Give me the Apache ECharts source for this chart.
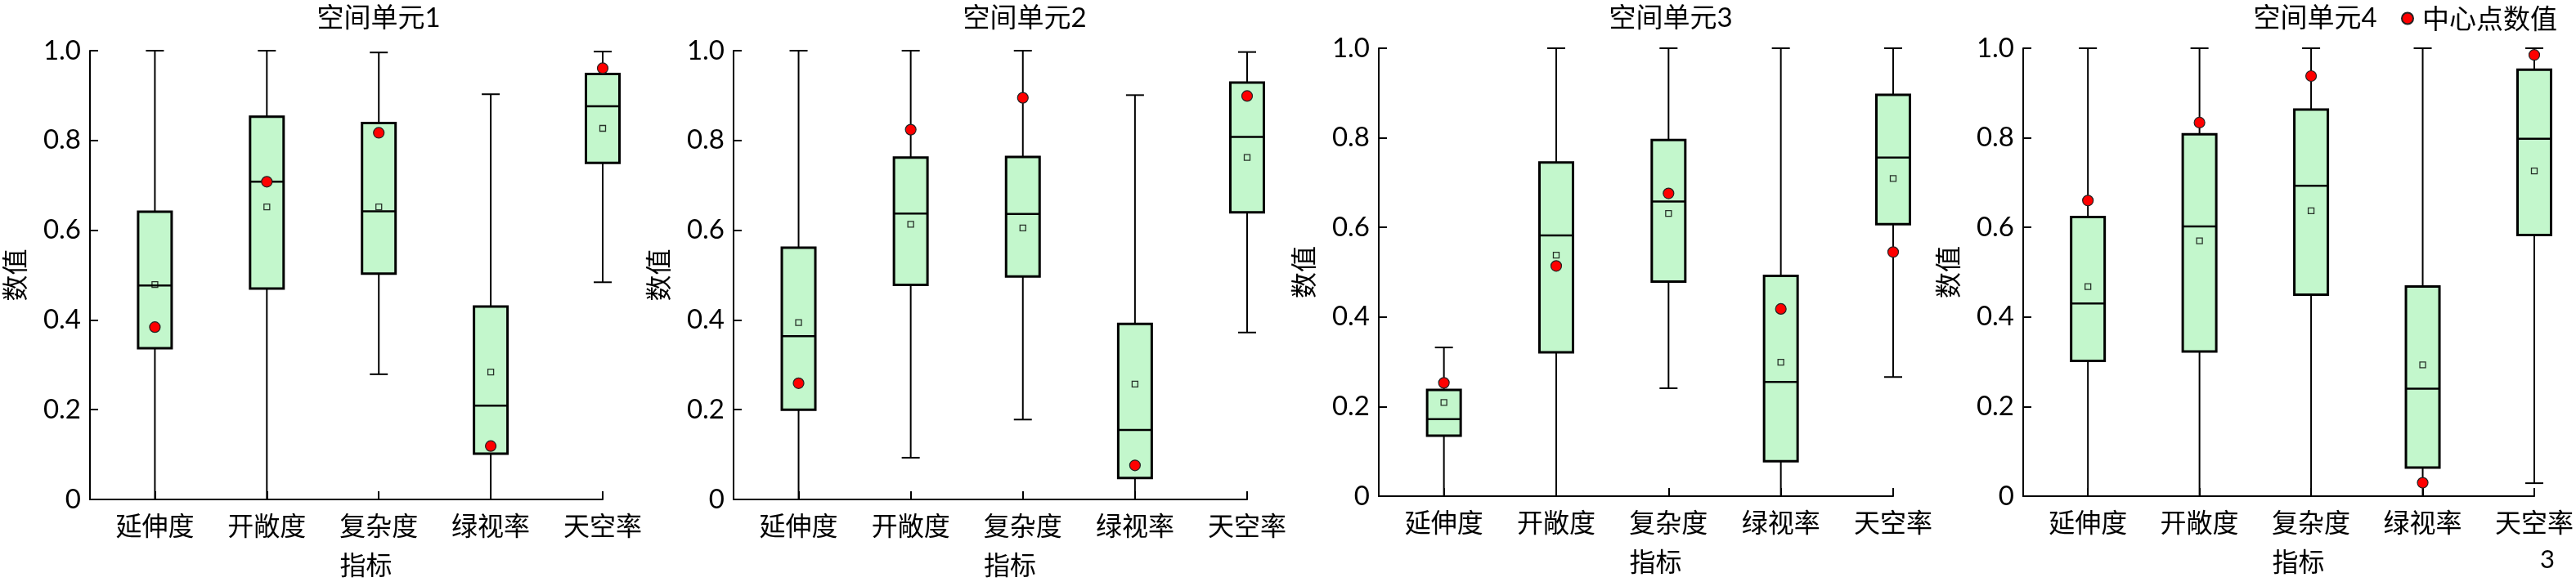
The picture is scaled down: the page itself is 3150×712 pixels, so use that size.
<!DOCTYPE html>
<html>
<head>
<meta charset="utf-8">
<script src="https://cdn.jsdelivr.net/npm/echarts@6/dist/echarts.min.js"></script>
<style>
html,body{margin:0;padding:0;background:#fff;}
#chart{width:3150px;height:712px;}
</style>
</head>
<body>
<div id="chart"></div>
<script>
// ---- data ----
const categories = ['延伸度', '开敞度', '复杂度', '绿视率', '天空率'];
const panelTitles = ['空间单元1', '空间单元2', '空间单元3', '空间单元4'];
const yTicks = [0, 0.2, 0.4, 0.6, 0.8, 1.0];
const legendName = '中心点数值';
const xAxisName = '指标';
const yAxisName = '数值';
const pageMark = '3';

// [lower whisker, Q1, median, Q3, upper whisker]
const boxes1 = [[0, 0.337, 0.477, 0.641, 1.0], [0, 0.470, 0.708, 0.853, 1.0], [0.279, 0.503, 0.642, 0.839, 0.996], [0, 0.102, 0.209, 0.430, 0.903], [0.484, 0.750, 0.876, 0.948, 0.998]];
const means1 = [0.479, 0.652, 0.652, 0.284, 0.827];
const centers1 = [0.384, 0.708, 0.817, 0.119, 0.961];

const boxes2 = [[0, 0.200, 0.364, 0.561, 1.0], [0.093, 0.478, 0.637, 0.762, 1.0], [0.178, 0.497, 0.636, 0.763, 1.0], [0, 0.048, 0.155, 0.391, 0.901], [0.372, 0.640, 0.808, 0.929, 0.997]];
const means2 = [0.394, 0.613, 0.605, 0.257, 0.762];
const centers2 = [0.259, 0.824, 0.895, 0.076, 0.899];

const boxes3 = [[0, 0.135, 0.172, 0.237, 0.332], [0, 0.321, 0.582, 0.745, 1.0], [0.241, 0.479, 0.658, 0.795, 1.0], [0, 0.078, 0.255, 0.492, 1.0], [0.266, 0.607, 0.756, 0.896, 1.0]];
const means3 = [0.209, 0.538, 0.631, 0.299, 0.709];
const centers3 = [0.253, 0.514, 0.676, 0.418, 0.545];

const boxes4 = [[0, 0.302, 0.430, 0.623, 1.0], [0, 0.323, 0.602, 0.808, 1.0], [0, 0.450, 0.693, 0.863, 1.0], [0, 0.064, 0.240, 0.468, 1.0], [0.029, 0.583, 0.798, 0.952, 1.0]];
const means4 = [0.468, 0.570, 0.637, 0.293, 0.726];
const centers4 = [0.660, 0.834, 0.938, 0.030, 0.985];

const allBoxes = [boxes1, boxes2, boxes3, boxes4];
const allMeans = [means1, means2, means3, means4];
const allCenters = [centers1, centers2, centers3, centers4];

// ---- layout / style ----
const grids = [
  {left: 110, top: 62, width: 627, height: 549},
  {left: 897, top: 62, width: 628, height: 549},
  {left: 1686, top: 59, width: 629, height: 548},
  {left: 2474, top: 59, width: 628, height: 548}
];
const titleCenters = [458, 1248, 2038, 2826];
const FONT = 'Lato, "Noto Sans CJK SC", sans-serif';
const CJK = '"Noto Sans CJK SC", sans-serif';
const BOX_FILL = '#c3f7cc';
const BOX_W = 41;
const CAP_W = 22;

const catPos = categories.map((c, i) => i + 1);

function renderBox(params, api) {
  const x = api.value(0);
  const lo = api.coord([x, api.value(1)]);
  const q1 = api.coord([x, api.value(2)]);
  const md = api.coord([x, api.value(3)]);
  const q3 = api.coord([x, api.value(4)]);
  const hi = api.coord([x, api.value(5)]);
  const cx = lo[0];
  const h = BOX_W / 2, c = CAP_W / 2;
  const ln = {stroke: '#000', lineWidth: 2};
  return {
    type: 'group',
    children: [
      {type: 'line', shape: {x1: cx, y1: lo[1], x2: cx, y2: q1[1]}, style: ln},
      {type: 'line', shape: {x1: cx, y1: q3[1], x2: cx, y2: hi[1]}, style: ln},
      {type: 'line', shape: {x1: cx - c, y1: lo[1], x2: cx + c, y2: lo[1]}, style: ln},
      {type: 'line', shape: {x1: cx - c, y1: hi[1], x2: cx + c, y2: hi[1]}, style: ln},
      {type: 'rect', shape: {x: cx - h, y: q3[1], width: BOX_W, height: q1[1] - q3[1]},
        style: {fill: BOX_FILL, stroke: '#000', lineWidth: 3}},
      {type: 'line', shape: {x1: cx - h, y1: md[1], x2: cx + h, y2: md[1]}, style: {stroke: '#000', lineWidth: 2.5}}
    ]
  };
}

const option = {
  animation: false,
  backgroundColor: '#fff',
  title: panelTitles.map((t, i) => ({
    text: t, left: titleCenters[i], top: 1, textAlign: 'center',
    textStyle: {fontSize: 33, fontWeight: 'normal', color: '#000', fontFamily: FONT}
  })),
  legend: {
    data: [legendName], left: 2931, top: 1, icon: 'circle', itemWidth: 14, itemHeight: 14,
    textStyle: {fontSize: 33, color: '#000', fontFamily: CJK, padding: [0, 0, 0, 6]}
  },
  grid: grids,
  xAxis: grids.map((g, i) => ({
    type: 'value', gridIndex: i, min: 0.42, max: 5,
    name: xAxisName, nameLocation: 'middle', nameGap: 64,
    nameTextStyle: {fontSize: 32, color: '#000', fontFamily: CJK, padding: [0, 0, 0, 48]},
    axisLine: {show: true, onZero: false, lineStyle: {color: '#000', width: 2}},
    axisTick: {show: true, inside: true, length: 10, customValues: catPos, lineStyle: {color: '#000', width: 2}},
    axisLabel: {show: true, customValues: catPos, margin: 16, fontSize: 32, color: '#000', fontFamily: CJK,
      formatter: v => categories[Math.round(v) - 1] || ''},
    splitLine: {show: false}
  })),
  yAxis: grids.map((g, i) => ({
    type: 'value', gridIndex: i, min: 0, max: 1, interval: 0.2,
    name: yAxisName, nameLocation: 'middle', nameGap: 76, nameRotate: 90,
    nameTextStyle: {fontSize: 32, color: '#000', fontFamily: CJK},
    axisLine: {show: true, lineStyle: {color: '#000', width: 2}},
    axisTick: {show: true, inside: true, length: 10, lineStyle: {color: '#000', width: 2}},
    axisLabel: {margin: 11, fontSize: 33, color: '#000', fontFamily: FONT,
      formatter: v => (Math.abs(v) < 1e-9 ? '0' : v.toFixed(1))},
    splitLine: {show: false}
  })),
  series: []
};

allBoxes.forEach((bx, i) => {
  option.series.push({
    type: 'custom', xAxisIndex: i, yAxisIndex: i, z: 3,
    renderItem: renderBox,
    encode: {x: 0, y: [1, 2, 3, 4, 5]},
    data: bx.map((b, k) => [catPos[k]].concat(b))
  });
  option.series.push({
    type: 'scatter', xAxisIndex: i, yAxisIndex: i, z: 4, symbol: 'rect', symbolSize: 7,
    itemStyle: {color: 'rgba(255,255,255,0)', borderColor: '#000', borderWidth: 1.3},
    data: allMeans[i].map((m, k) => [catPos[k], m])
  });
  option.series.push({
    name: legendName, type: 'scatter', xAxisIndex: i, yAxisIndex: i, z: 5, symbol: 'circle', symbolSize: 13,
    itemStyle: {color: '#ff0000', borderColor: '#222', borderWidth: 1.2, opacity: 1},
    data: allCenters[i].map((m, k) => [catPos[k], m])
  });
});

option.graphic = [{
  type: 'text', x: 3106, y: 670,
  style: {text: pageMark, fontSize: 31, fill: '#000', fontFamily: FONT}
}];

const chart = echarts.init(document.getElementById('chart'));
chart.setOption(option);
</script>
</body>
</html>
